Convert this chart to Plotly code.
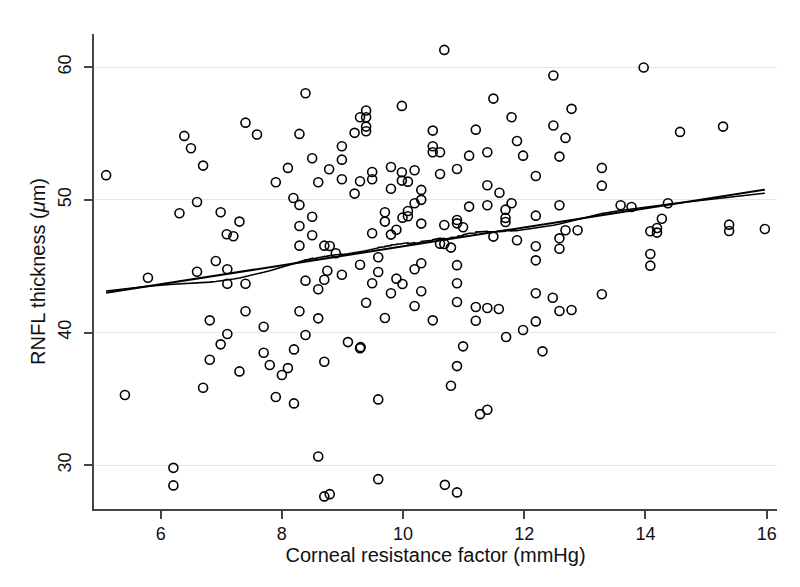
import numpy as np
import plotly.graph_objects as go

# Corneal resistance factor (mmHg)
crf = [8.39, 7.40, 7.59, 8.29, 6.39, 6.50, 6.70, 5.10, 8.50, 8.10, 7.90, 8.60, 8.78, 6.31, 6.60, 6.99, 7.30, 7.09, 7.20, 8.19,
       8.29, 8.50, 8.29, 8.50, 8.29, 8.70, 6.91, 6.60, 7.10, 5.79, 8.39, 8.70, 7.10, 7.40, 8.60, 8.75, 7.40, 6.81, 7.10, 6.99,
       6.81, 7.30, 6.70, 5.41, 7.70, 7.70, 7.80, 8.00, 8.10, 8.20, 8.29, 8.39, 8.60, 8.70, 7.90, 8.20, 6.21, 6.21, 8.60, 8.70,
       8.79, 9.59, 10.69, 10.89, 9.59, 11.27, 11.39, 10.79, 10.89, 10.99, 9.09, 9.29, 9.30, 9.39, 9.70, 10.19, 10.49, 10.89, 11.20, 11.20,
       11.39, 11.58, 11.70, 11.98, 12.19, 12.30, 12.19, 8.99, 9.49, 9.59, 9.80, 9.89, 9.99, 10.19, 10.30, 10.89, 10.89,
       10.68, 11.49, 11.79, 9.98, 9.39, 9.29, 9.39, 9.39, 9.39, 9.20, 8.99, 8.99, 8.99, 9.29, 9.49, 9.49, 9.20, 9.80, 9.80,
       9.98, 9.98, 10.08, 10.19, 10.30, 10.30, 10.19, 10.08, 9.99, 9.70, 9.70, 9.89, 9.80, 9.49, 10.08, 10.30, 10.49, 10.49, 10.49, 10.61,
       10.61, 10.89, 11.09, 11.20, 11.39, 11.88, 11.98, 12.19, 11.39, 11.59, 11.79, 11.69, 11.69, 11.69, 11.39, 11.09, 12.19, 10.68, 10.89, 10.89,
       10.99, 10.61, 10.68, 10.79, 11.49, 11.88, 12.19, 12.19, 10.30, 9.59, 9.29, 8.79, 8.89,
       12.48, 13.97, 12.78, 12.48, 12.68, 14.57, 15.28, 12.58, 13.28, 13.28, 12.58, 13.59, 13.77, 14.37, 14.27, 14.19, 14.08, 14.19, 12.68, 12.88,
       12.58, 12.58, 14.08, 14.08, 15.38, 15.38, 15.97, 12.47, 12.58, 12.78, 13.28]

# RNFL thickness (um)
rnfl = [58.04, 55.82, 54.92, 54.97, 54.82, 53.89, 52.58, 51.86, 53.14, 52.41, 51.33, 51.33, 52.31, 48.99, 49.84, 49.06, 48.36, 47.41, 47.26, 50.14,
        49.62, 48.73, 48.03, 47.33, 46.55, 46.55, 45.39, 44.58, 44.77, 44.13, 43.91, 43.98, 43.68, 43.68, 43.26, 44.66, 41.60, 40.92, 39.89, 39.11,
        37.95, 37.07, 35.84, 35.29, 40.44, 38.48, 37.55, 36.80, 37.32, 38.73, 41.60, 39.81, 41.07, 37.80, 35.14, 34.66, 29.80, 28.48, 30.66, 27.65,
        27.82, 28.95, 28.52, 27.95, 34.96, 33.85, 34.18, 35.99, 37.47, 38.96, 39.28, 38.81, 38.90, 42.25, 41.09, 42.00, 40.92, 42.30, 40.89, 41.92,
        41.85, 41.77, 39.66, 40.19, 40.84, 38.58, 42.96, 44.36, 43.71, 44.56, 42.96, 44.06, 43.66, 44.77, 43.11, 43.71, 45.08,
        61.30, 57.63, 56.23, 57.08, 56.73, 56.23, 56.23, 55.52, 55.17, 55.05, 54.04, 53.03, 51.55, 51.40, 52.10, 51.55, 50.47, 52.48, 50.84,
        52.08, 51.45, 51.37, 52.23, 50.75, 50.00, 49.74, 49.16, 48.66, 49.06, 48.36, 47.75, 47.38, 47.48, 48.76, 48.21, 55.22, 54.04, 53.59, 53.59,
        51.95, 52.33, 53.33, 55.29, 53.59, 54.44, 53.33, 51.80, 51.10, 50.54, 49.74, 49.26, 48.64, 48.33, 49.59, 49.49, 48.81, 48.11, 48.48, 48.23,
        47.93, 46.70, 46.67, 46.40, 47.23, 46.95, 46.50, 45.44, 45.22, 45.67, 45.11, 46.52, 45.97,
        59.37, 59.97, 56.86, 55.60, 54.67, 55.12, 55.52, 53.26, 52.41, 51.07, 49.59, 49.59, 49.46, 49.74, 48.58, 47.88, 47.63, 47.53, 47.71, 47.71,
        47.10, 46.32, 45.92, 45.04, 48.13, 47.65, 47.80, 42.62, 41.62, 41.70, 42.88]

x_ticks = [6, 8, 10, 12, 14, 16]
y_ticks = [30, 40, 50, 60]

x = np.array(crf)
y = np.array(rnfl)

# linear fit
b, a = np.polyfit(x, y, 1)
xf = np.array([x.min(), x.max()])
yf = a + b * xf

# Stata-style lowess (bandwidth 0.8, running-line, tricube)
def lowess(x, y, bw=0.8):
    o = np.argsort(x, kind="mergesort")
    xs, ys = x[o], y[o]
    n = len(xs)
    k = int(np.floor((n * bw - 0.5) / 2))
    out = np.empty(n)
    for i in range(n):
        lo, hi = max(0, i - k), min(n - 1, i + k)
        xi = xs[i]
        d = 1.0001 * max(xs[hi] - xi, xi - xs[lo])
        xx = xs[lo:hi + 1]; yy = ys[lo:hi + 1]
        w = (1 - (np.abs(xx - xi) / d) ** 3) ** 3
        sw = w.sum()
        mx = (w * xx).sum() / sw
        my = (w * yy).sum() / sw
        sxx = (w * (xx - mx) ** 2).sum()
        slope = (w * (xx - mx) * (yy - my)).sum() / sxx if sxx > 0 else 0
        out[i] = my + slope * (xi - mx)
    return xs, out

lx, ly = lowess(x, y)

fig = go.Figure()
fig.add_trace(go.Scatter(x=crf, y=rnfl, mode="markers",
                         marker=dict(symbol="circle-open", size=9, color="black", line=dict(width=1.6, color="black")),
                         showlegend=False))
fig.add_trace(go.Scatter(x=xf, y=yf, mode="lines", line=dict(color="black", width=2), showlegend=False))
fig.add_trace(go.Scatter(x=lx, y=ly, mode="lines", line=dict(color="black", width=1.6), showlegend=False))

font = "Liberation Sans, Arial, sans-serif"
fig.update_layout(
    width=800, height=587,
    margin=dict(l=86, r=31, t=26, b=86),
    paper_bgcolor="white", plot_bgcolor="white",
    font=dict(family=font, size=17, color="#111"),
    xaxis=dict(range=[4.9, 16.17], tickvals=x_ticks, ticks="outside", ticklen=8, tickwidth=1.5, tickcolor="#444",
               tickfont=dict(size=18), automargin=False,
               showline=True, linecolor="#444", linewidth=1.5, showgrid=False, zeroline=False,
               title=dict(text="Corneal resistance factor (mmHg)", standoff=2)),
    yaxis=dict(range=[26.7, 62.5], tickvals=y_ticks, ticks="outside", ticklen=8, tickwidth=1.5, tickcolor="#444",
               tickangle=-90, tickfont=dict(size=18), ticklabelstandoff=6, automargin=False,
               showline=True, linecolor="#444", linewidth=1.5, showgrid=True, gridcolor="#e6e6e6", gridwidth=1.2,
               zeroline=False, title=dict(text="RNFL thickness (<i>μ</i>m)", standoff=4)),
)
fig.write_html("out.html")
